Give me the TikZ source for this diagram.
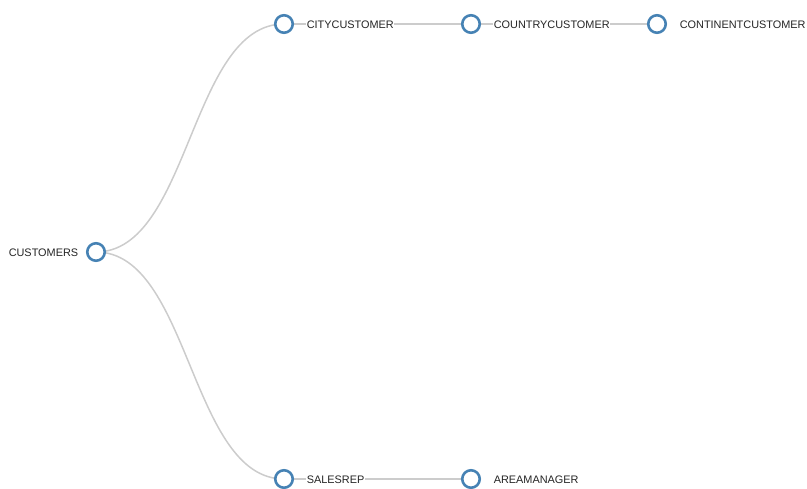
\documentclass[tikz,border=0pt]{standalone}
\usepackage{fontspec}
\setmainfont{Liberation Sans}
\begin{document}
\begin{tikzpicture}[x=1pt,y=-1pt,
  treenode/.style={circle,draw=nodeblue,line width=2.6pt,fill=white,minimum size=17.5pt,inner sep=0pt},
  link/.style={draw=linkgrey,line width=1.5pt},
  lbl/.style={font=\fontsize{10.9}{12}\selectfont,text=black!85,inner sep=0.6pt,fill=white}]
\definecolor{nodeblue}{HTML}{4682B4}
\definecolor{linkgrey}{HTML}{CCCCCC}
\useasboundingbox (0,0) rectangle (807,489);
% node centres
\coordinate (cust) at (96,252);
\coordinate (city) at (284,24);
\coordinate (country) at (471,24);
\coordinate (cont) at (657,24);
\coordinate (sales) at (284,479);
\coordinate (area) at (471,479);
% links
\draw[link] (cust) .. controls (190,252) and (190,24) .. (city);
\draw[link] (cust) .. controls (190,252) and (190,479) .. (sales);
\draw[link] (city) -- (country);
\draw[link] (country) -- (cont);
\draw[link] (sales) -- (area);
% labels
\node[lbl,anchor=east] (tcust) at (79,253) {CUSTOMERS};
\node[lbl,anchor=west] (tcity) at (306,25) {CITYCUSTOMER};
\node[lbl,anchor=west] (tcountry) at (493,25) {COUNTRYCUSTOMER};
\node[lbl,anchor=west] (tcont) at (679,25) {CONTINENTCUSTOMER};
\node[lbl,anchor=west] (tsales) at (306,480) {SALESREP};
\node[lbl,anchor=west] (tarea) at (493,480) {AREAMANAGER};
% nodes
\node[treenode] (ncust) at (cust) {};
\node[treenode] (ncity) at (city) {};
\node[treenode] (ncountry) at (country) {};
\node[treenode] (ncont) at (cont) {};
\node[treenode] (nsales) at (sales) {};
\node[treenode] (narea) at (area) {};
\end{tikzpicture}
\end{document}
